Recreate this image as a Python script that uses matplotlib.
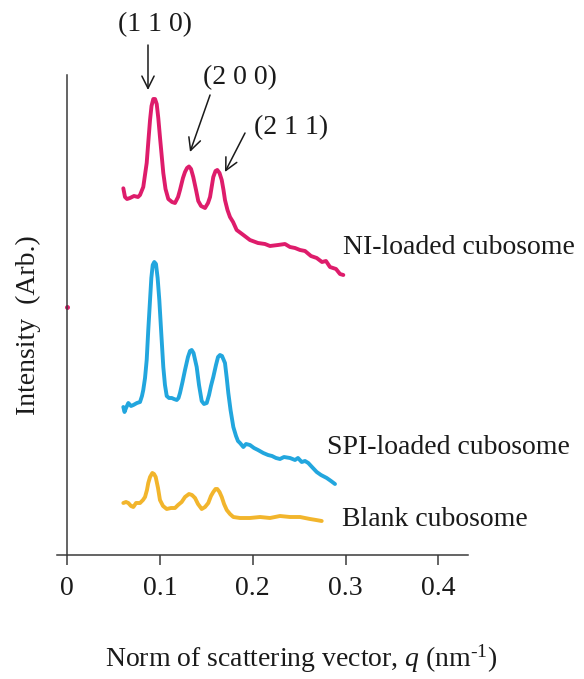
import matplotlib
matplotlib.use("Agg")
import matplotlib.pyplot as plt

plt.rcParams['font.family'] = ['Liberation Serif', 'DejaVu Serif']
plt.rcParams['mathtext.fontset'] = 'custom'
plt.rcParams['mathtext.rm'] = 'Liberation Serif'
plt.rcParams['mathtext.it'] = 'Liberation Serif:italic'

# ---- data ----
q_ni = [0.0604, 0.0622, 0.0644, 0.0676, 0.0719, 0.0762, 0.0784, 0.0819, 0.0856, 0.0875,
        0.0892, 0.0908, 0.0927, 0.0946, 0.0964, 0.0981, 0.0999, 0.1018, 0.1035, 0.1059,
        0.1089, 0.1129, 0.1161, 0.1194, 0.1215, 0.1247, 0.1269, 0.1291, 0.1312, 0.1334,
        0.1358, 0.1388, 0.1412, 0.1442, 0.1485, 0.1517, 0.1539, 0.1560, 0.1574, 0.1598,
        0.1617, 0.1641, 0.1665, 0.1684, 0.1700, 0.1727, 0.1754, 0.1787, 0.1826, 0.1884,
        0.1969, 0.2056, 0.2131, 0.2185, 0.2271, 0.2347, 0.2401, 0.2455, 0.2509, 0.2563,
        0.2627, 0.2689, 0.2746, 0.2789, 0.2832, 0.2897, 0.2940, 0.2976]
i_ni = [366.7, 358, 356, 357, 359, 358, 360, 368, 392, 415,
        435, 449, 456, 456, 451, 437, 418, 399, 382, 366,
        356, 353, 352, 358, 365, 377, 383, 387, 388.5, 386,
        378, 365, 354, 349, 347, 352, 358, 370, 378, 384,
        385, 382, 375, 365, 355, 345, 338, 333, 325, 321,
        315, 312, 311, 309, 310, 311, 308, 307, 305, 304,
        299, 297, 293, 294, 288, 286, 281, 280]

q_spi = [0.0604, 0.0617, 0.0633, 0.0658, 0.0687, 0.0712, 0.0751, 0.0784, 0.0805, 0.0819,
         0.0838, 0.0856, 0.0873, 0.0892, 0.0906, 0.0921, 0.0938, 0.0956, 0.0974, 0.0992,
         0.1013, 0.1035, 0.1053, 0.1072, 0.1097, 0.1126, 0.1150, 0.1180, 0.1199, 0.1215,
         0.1242, 0.1269, 0.1301, 0.1323, 0.1341, 0.1361, 0.1395, 0.1420, 0.1449, 0.1474,
         0.1503, 0.1528, 0.1549, 0.1574, 0.1603, 0.1625, 0.1646, 0.1668, 0.1700, 0.1719,
         0.1736, 0.1760, 0.1790, 0.1819, 0.1840, 0.1862, 0.1898, 0.1927, 0.1969, 0.2013,
         0.2056, 0.2113, 0.2164, 0.2207, 0.2250, 0.2293, 0.2336, 0.2401, 0.2455, 0.2487,
         0.2527, 0.2563, 0.2598, 0.2638, 0.2689, 0.2735, 0.2797, 0.2843, 0.2886]
i_spi = [148, 143, 147, 152, 149, 150, 152, 153, 159, 165,
         177, 195, 225, 255, 277, 290, 293, 291, 277, 255,
         222, 188, 170, 159, 157, 157, 156, 155, 157, 162,
         173, 185, 198, 204, 205, 202, 188, 170, 154, 151,
         152, 160, 169, 178, 190, 198, 200, 199, 192, 177,
         162, 145, 128, 119, 114, 112, 108, 111, 110, 107,
         105, 102, 100, 99, 97, 96, 98, 97, 95, 97,
         93, 94, 92, 88, 83, 80, 77, 74, 71]

q_blank = [0.0604, 0.0633, 0.0658, 0.0687, 0.0712, 0.0741, 0.0784, 0.0816, 0.0838, 0.0859,
           0.0873, 0.0892, 0.0917, 0.0935, 0.0953, 0.0978, 0.0999, 0.1032, 0.1072, 0.1118,
           0.1161, 0.1194, 0.1233, 0.1269, 0.1312, 0.1344, 0.1377, 0.1409, 0.1449, 0.1485,
           0.1520, 0.1549, 0.1574, 0.1598, 0.1617, 0.1641, 0.1665, 0.1690, 0.1719, 0.1754,
           0.1790, 0.1862, 0.1969, 0.2078, 0.2185, 0.2293, 0.2401, 0.2509, 0.2617, 0.2682,
           0.2743]
i_blank = [52, 53, 52, 49, 48, 52, 52, 55, 58, 65,
           72, 78, 82, 81, 78, 67, 55, 49, 46, 47,
           47, 50, 53, 58, 61, 60, 57, 51, 46, 48,
           52, 59, 63, 66, 66, 63, 58, 51, 45, 41,
           38, 37, 37, 38, 37, 39, 38, 38, 36, 35,
           34]

x_ticks = [0, 0.1, 0.2, 0.3, 0.4]
x_tick_labels = ['0', '0.1', '0.2', '0.3', '0.4']
series_labels = ['NI-loaded cubosome', 'SPI-loaded cubosome', 'Blank cubosome']
peak_labels = ['(1 1 0)', '(2 0 0)', '(2 1 1)']

# ---- figure ----
W, H = 584, 679
fig = plt.figure(figsize=(W / 100, H / 100), dpi=100)
ax_left, ax_right, ax_top, ax_bot = 57, 468, 75, 555
ax = fig.add_axes([ax_left / W, 1 - ax_bot / H, (ax_right - ax_left) / W, (ax_bot - ax_top) / H])
ax.set_xlim(-0.0111, 0.432)
ax.set_ylim(0, 480)

c_ni, c_spi, c_blank = '#DE1C6B', '#22A6DE', '#F2B52C'
lw = 2.8
for qq, ii, cc in [(q_ni, i_ni, c_ni), (q_spi, i_spi, c_spi), (q_blank, i_blank, c_blank)]:
    ax.plot(qq, ii, color=cc, lw=lw, solid_joinstyle='round', solid_capstyle='round')

spine_c = '#3a3a3a'
for s in ['top', 'right']:
    ax.spines[s].set_visible(False)
ax.spines['left'].set_position(('data', 0))
for s in ['left', 'bottom']:
    ax.spines[s].set_color(spine_c)
    ax.spines[s].set_linewidth(1.1)
ax.set_yticks([])
ax.set_xticks(x_ticks)
ax.set_xticklabels(x_tick_labels)
ax.tick_params(axis='x', direction='out', length=7, width=1.1, color=spine_c,
               labelsize=20, pad=8, labelcolor='#1a1a1a')
ax.plot([0], [248], marker='o', ms=2.5, color=c_ni, clip_on=False)

fs = 20
tc = '#1a1a1a'
# series labels
ax.text(0.2973, 308, series_labels[0], fontsize=fs, color=tc, va='center', ha='left')
ax.text(0.2799, 108, series_labels[1], fontsize=fs, color=tc, va='center', ha='left')
ax.text(0.2962, 35, series_labels[2], fontsize=fs, color=tc, va='center', ha='left')

# peak annotations
arrow = dict(arrowstyle='->', color='#1a1a1a', lw=1.1, mutation_scale=22, shrinkA=0, shrinkB=0)
ax.annotate('', xy=(0.0870, 465), xytext=(0.0870, 510), arrowprops=arrow)
ax.annotate('', xy=(0.1323, 403), xytext=(0.1539, 460), arrowprops=arrow)
ax.annotate('', xy=(0.1700, 383), xytext=(0.1916, 422), arrowprops=arrow)
ax.text(0.0946, 530, peak_labels[0], fontsize=fs, color=tc, ha='center', va='center', clip_on=False)
ax.text(0.1862, 477, peak_labels[1], fontsize=fs, color=tc, ha='center', va='center')
ax.text(0.2412, 427, peak_labels[2], fontsize=fs, color=tc, ha='center', va='center')

# axis labels
fig.text(28 / W, 1 - 325 / H, 'Intensity  (Arb.)', rotation=90, fontsize=fs, color=tc,
         ha='center', va='center')
fig.text(301 / W, 1 - 667 / H, 'Norm of scattering vector, $q$ (nm$^{\u20101}$)', fontsize=fs,
         color=tc, ha='center', va='baseline')

fig.savefig('out.png', dpi=100)
